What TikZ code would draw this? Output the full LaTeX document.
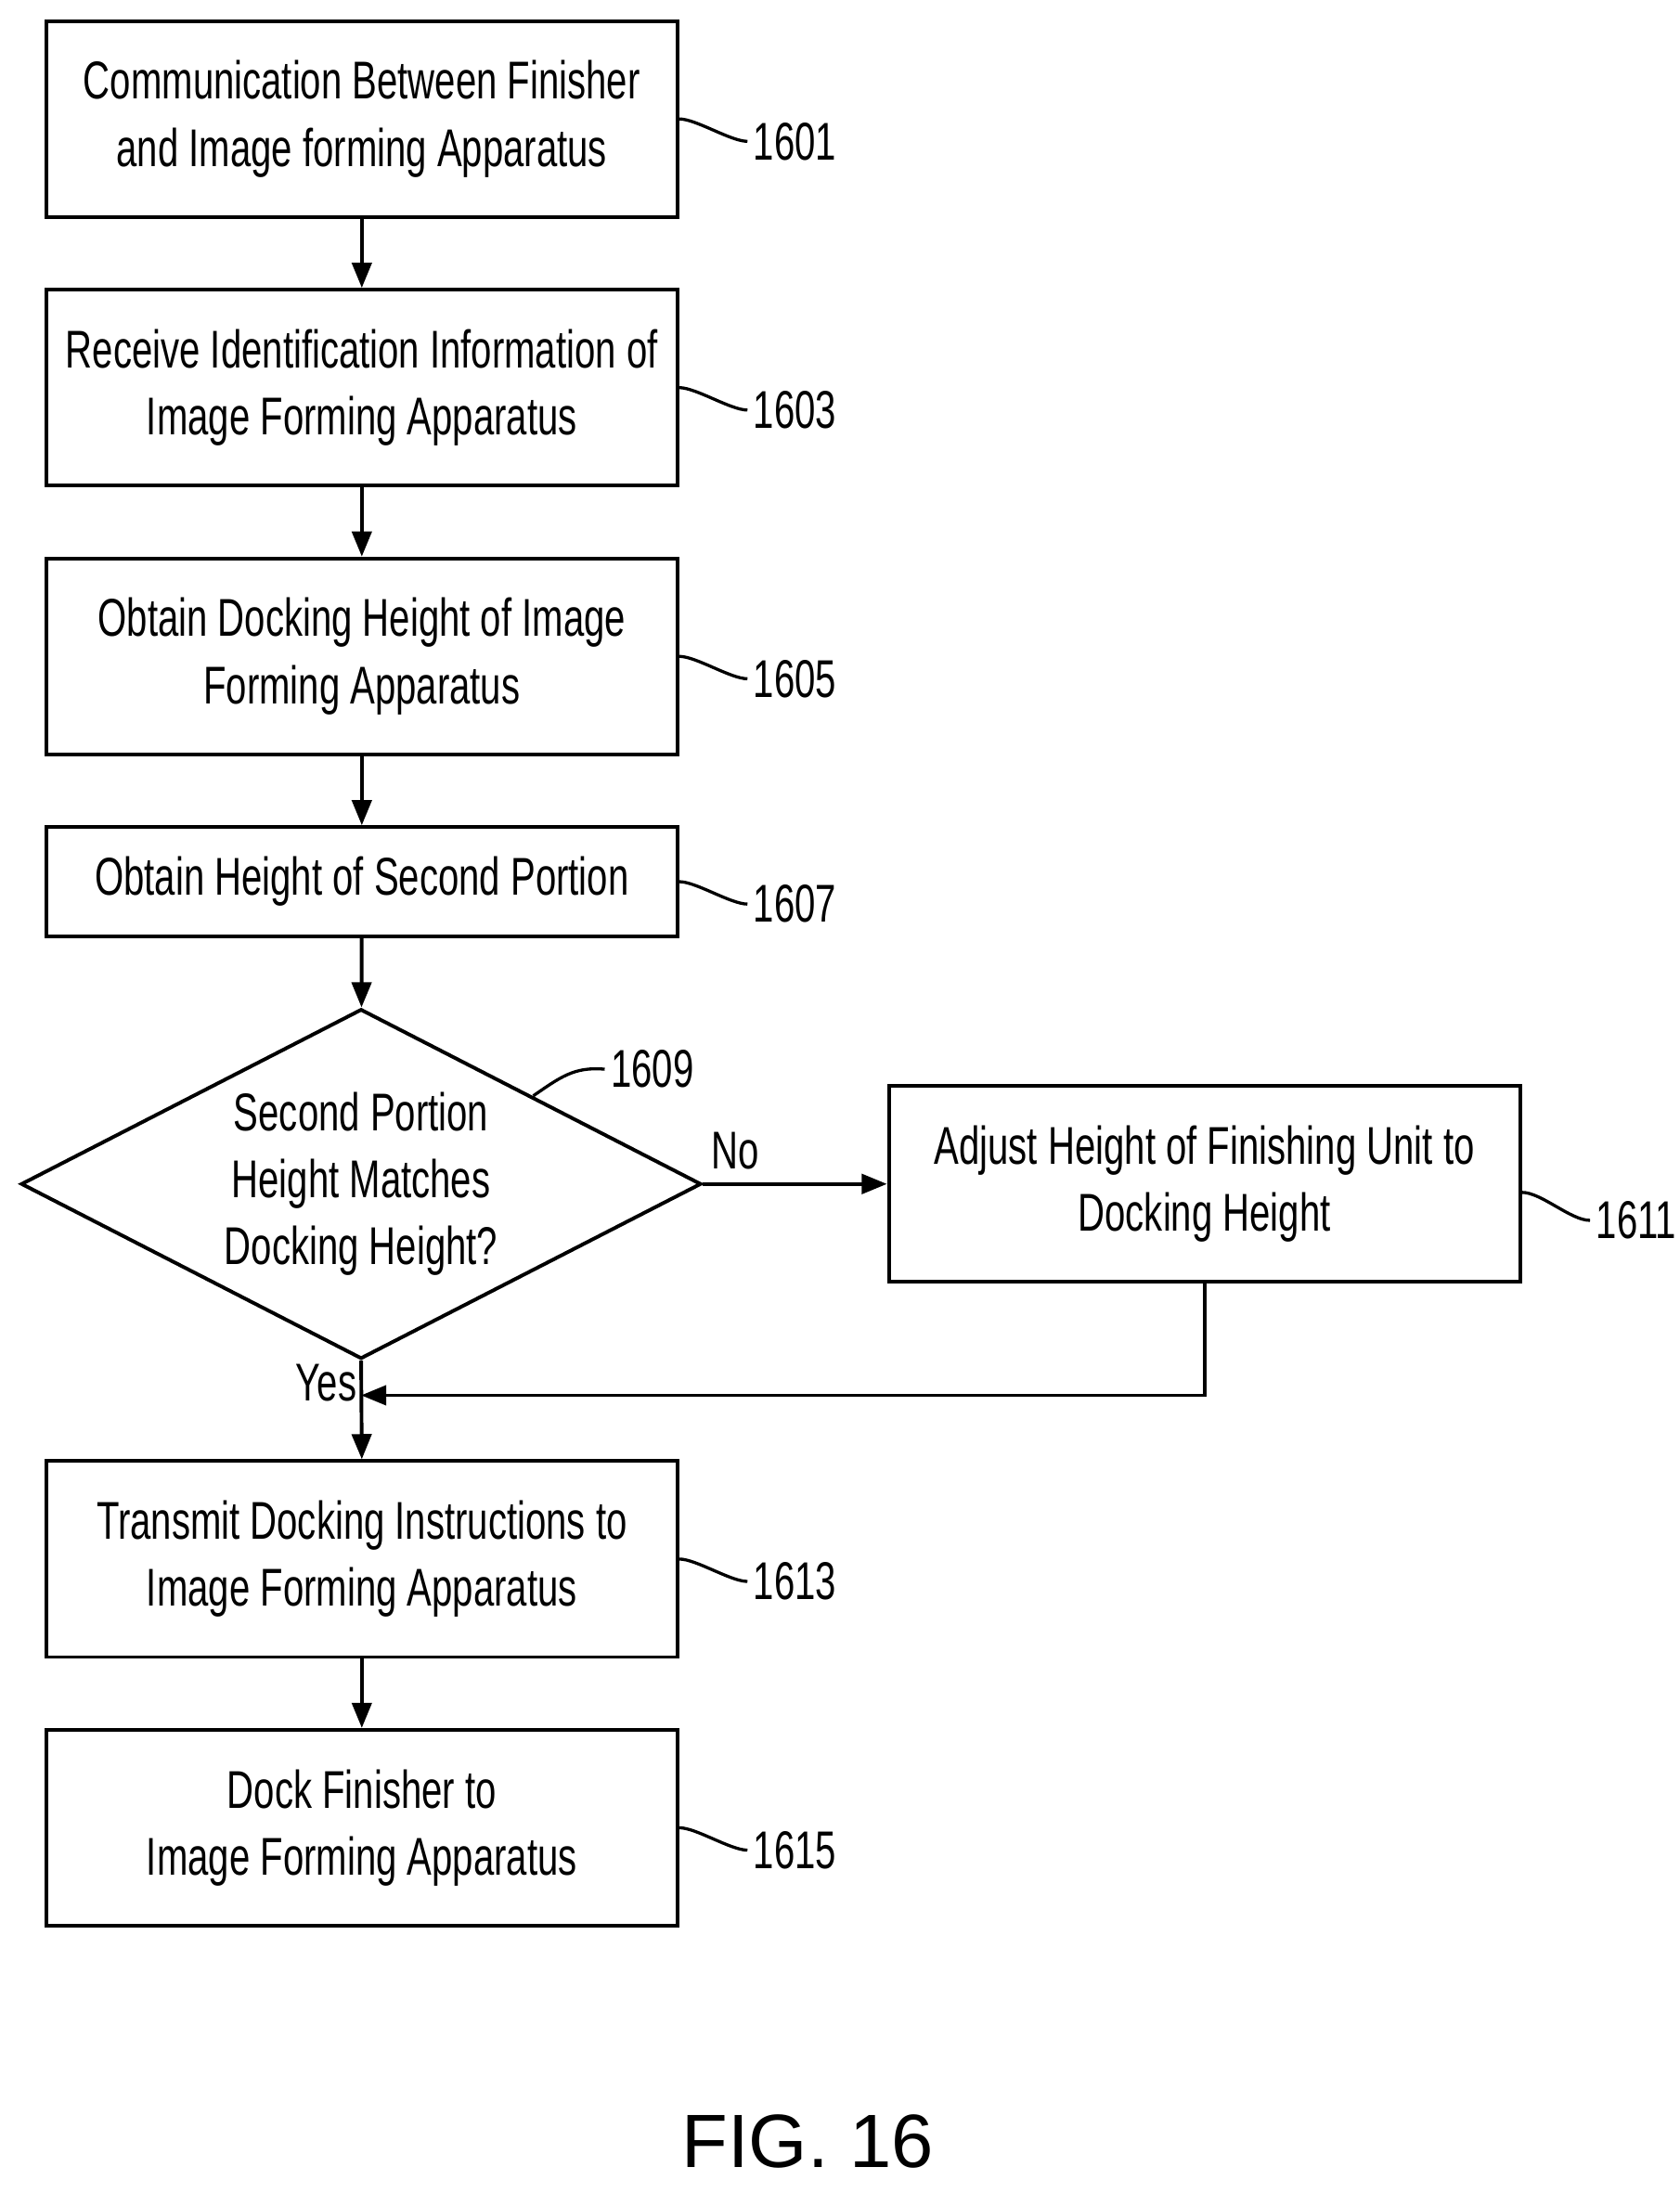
\documentclass[tikz,border=0pt]{standalone}
\usepackage{fontspec}
\setmainfont{Liberation Sans}[FakeStretch=0.7]
\newfontfamily\figfont{Liberation Sans}
\usetikzlibrary{arrows.meta,shapes.geometric}
\begin{document}
\begin{tikzpicture}[x=0.5pt,y=-0.5pt,
 box/.style={draw,line width=1.3pt,align=center,font=\fontsize{19}{24}\selectfont},
 lbl/.style={font=\fontsize{19}{24}\selectfont,anchor=west,inner sep=0},
 arr/.style={line width=1.3pt,-{Triangle[length=9pt,width=7pt]}},
 lead/.style={line width=1.1pt}]
\useasboundingbox (0,0) rectangle (1200,1567);
\node[box,minimum width=225.5pt,minimum height=70pt,inner sep=0] (b1) at (258.5,85) {Communication Between Finisher\\and Image forming Apparatus};
\node[box,minimum width=225.5pt,minimum height=70pt,inner sep=0] (b3) at (258.5,277) {Receive Identification Information of\\Image Forming Apparatus};
\node[box,minimum width=225.5pt,minimum height=70pt,inner sep=0] (b5) at (258.5,469) {Obtain Docking Height of Image\\Forming Apparatus};
\node[box,minimum width=225.5pt,minimum height=39pt,inner sep=0] (b7) at (258.5,630) {Obtain Height of Second Portion};
\node[box,diamond,minimum width=243pt,minimum height=125pt,inner sep=0,aspect=1.94] (d9) at (258,846) {Second Portion\\Height Matches\\Docking Height?};
\node[box,minimum width=225.5pt,minimum height=70pt,inner sep=0] (b11) at (860.5,846) {Adjust Height of Finishing Unit to\\Docking Height};
\node[box,minimum width=225.5pt,minimum height=70pt,inner sep=0] (b13) at (258.5,1114) {Transmit Docking Instructions to\\Image Forming Apparatus};
\node[box,minimum width=225.5pt,minimum height=70pt,inner sep=0] (b15) at (258.5,1306) {Dock Finisher to\\Image Forming Apparatus};
\draw[arr] (b1) -- (b3);
\draw[arr] (b3) -- (b5);
\draw[arr] (b5) -- (b7);
\draw[arr] (b7) -- (d9);
\draw[arr] (d9.east) -- (b11.west);
\coordinate (m) at (258,997);
\draw[arr] (b11.south) |- (m);
\draw[arr] (d9.south) -- (b13.north);
\draw[arr] (b13) -- (b15);
\node[lbl] at (508,822) {No};
\node[lbl] at (211,988) {Yes};
\foreach \n/\y in {b1/1601,b3/1603,b5/1605,b7/1607,b13/1613,b15/1615}{
 \node[lbl] (l\y) at (538,0|-\n.east) [yshift=-8pt] {\y};
 \draw[lead] (\n.east) .. controls +(12,0) and +(-12,0) .. ([xshift=-2pt]l\y.west);
}
\node[lbl] (l1611) at (1140,872) {1611};
\draw[lead] (b11.east)++(0,6) .. controls +(14,0) and +(-14,0) .. ([xshift=-2pt]l1611.west);
\node[lbl] (l1609) at (436,764) {1609};
\draw[lead] (381,783) .. controls (400,770) and (410,762) .. ([xshift=-2pt]l1609.west);
\node[font=\figfont\fontsize{27}{30}\selectfont] (fig) at (577,1530) {FIG. 16};
\end{tikzpicture}
\end{document}
